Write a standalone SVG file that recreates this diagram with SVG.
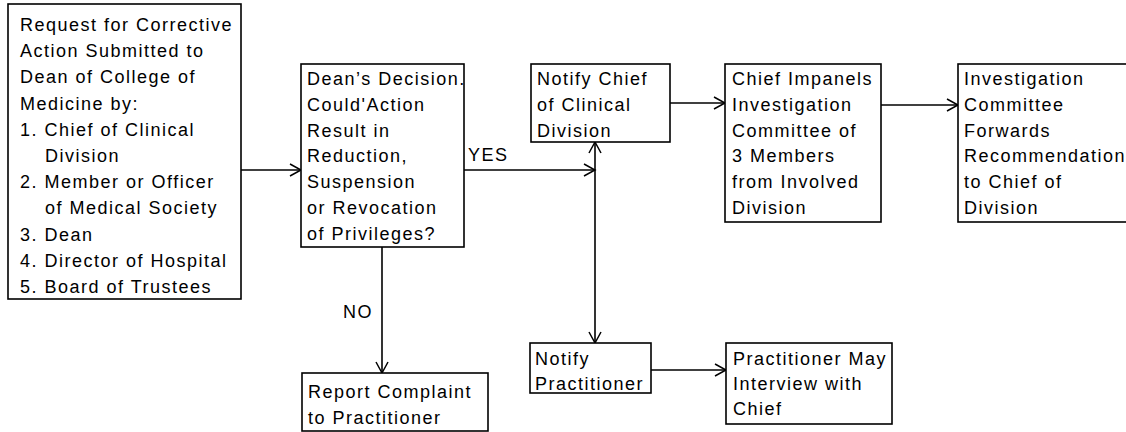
<svg xmlns="http://www.w3.org/2000/svg" width="1126" height="432" viewBox="0 0 1126 432">
<defs>
<marker id="ah" markerUnits="userSpaceOnUse" markerWidth="14" markerHeight="14" viewBox="0 0 14 14" refX="12" refY="7" orient="auto-start-reverse">
<path d="M1,1 L12,7 L1,13" fill="none" stroke="#000" stroke-width="1.5"/>
</marker>
</defs>
<style>
.box{fill:#fff;stroke:#000;stroke-width:1.6}
.t{font-family:"Liberation Sans",Arial,sans-serif;font-size:18px;letter-spacing:1.5px;fill:#000}
.c{fill:none;stroke:#000;stroke-width:1.6}
</style>
<rect width="1126" height="432" fill="#fff"/>
<g id="connectors">
<path class="c" d="M241,170 H301" marker-end="url(#ah)"/>
<path class="c" d="M464,170 H595" marker-end="url(#ah)"/>
<path class="c" d="M595,142 V343" marker-start="url(#ah)" marker-end="url(#ah)"/>
<path class="c" d="M670,103 H725" marker-end="url(#ah)"/>
<path class="c" d="M881,105 H958" marker-end="url(#ah)"/>
<path class="c" d="M382,247 V373" marker-end="url(#ah)"/>
<path class="c" d="M651,370 H726" marker-end="url(#ah)"/>
<text class="t" x="468" y="161">YES</text>
<text class="t" x="343" y="318">NO</text>
</g>
<g id="n1">
<rect class="box" x="8" y="4" width="233" height="295"/>
<text class="t" y="31">
<tspan x="20">Request for Corrective</tspan>
<tspan x="20" dy="26.2">Action Submitted to</tspan>
<tspan x="20" dy="26.2">Dean of College of</tspan>
<tspan x="20" dy="26.2">Medicine by:</tspan>
<tspan x="20" dy="26.2">1. Chief of Clinical</tspan>
<tspan x="45" dy="26.2">Division</tspan>
<tspan x="20" dy="26.2">2. Member or Officer</tspan>
<tspan x="45" dy="26.2">of Medical Society</tspan>
<tspan x="20" dy="26.2">3. Dean</tspan>
<tspan x="20" dy="26.2">4. Director of Hospital</tspan>
<tspan x="20" dy="26.2">5. Board of Trustees</tspan>
</text>
</g>
<g id="n2">
<rect class="box" x="301" y="64" width="163" height="183"/>
<text class="t" y="85">
<tspan x="307">Dean’s Decision.</tspan>
<tspan x="307" dy="25.8">Could'Action</tspan>
<tspan x="307" dy="25.8">Result in</tspan>
<tspan x="307" dy="25.8">Reduction,</tspan>
<tspan x="307" dy="25.8">Suspension</tspan>
<tspan x="307" dy="25.8">or Revocation</tspan>
<tspan x="307" dy="25.8">of Privileges?</tspan>
</text>
</g>
<g id="n3">
<rect class="box" x="531" y="64" width="139" height="78"/>
<text class="t" y="85">
<tspan x="537">Notify Chief</tspan>
<tspan x="537" dy="25.8">of Clinical</tspan>
<tspan x="537" dy="25.8">Division</tspan>
</text>
</g>
<g id="n4">
<rect class="box" x="725" y="64" width="156" height="158"/>
<text class="t" y="85">
<tspan x="732">Chief Impanels</tspan>
<tspan x="732" dy="25.8">Investigation</tspan>
<tspan x="732" dy="25.8">Committee of</tspan>
<tspan x="732" dy="25.8">3 Members</tspan>
<tspan x="732" dy="25.8">from Involved</tspan>
<tspan x="732" dy="25.8">Division</tspan>
</text>
</g>
<g id="n5">
<rect class="box" x="958" y="64" width="190" height="158"/>
<text class="t" y="85">
<tspan x="964">Investigation</tspan>
<tspan x="964" dy="25.8">Committee</tspan>
<tspan x="964" dy="25.8">Forwards</tspan>
<tspan x="964" dy="25.8">Recommendation</tspan>
<tspan x="964" dy="25.8">to Chief of</tspan>
<tspan x="964" dy="25.8">Division</tspan>
</text>
</g>
<g id="n6">
<rect class="box" x="302" y="373" width="186" height="58"/>
<text class="t" y="398">
<tspan x="308">Report Complaint</tspan>
<tspan x="308" dy="25.8">to Practitioner</tspan>
</text>
</g>
<g id="n7">
<rect class="box" x="530" y="343" width="121" height="50"/>
<text class="t" y="365">
<tspan x="535">Notify</tspan>
<tspan x="535" dy="25">Practitioner</tspan>
</text>
</g>
<g id="n8">
<rect class="box" x="726" y="343" width="166" height="81"/>
<text class="t" y="365">
<tspan x="733">Practitioner May</tspan>
<tspan x="733" dy="25">Interview with</tspan>
<tspan x="733" dy="25">Chief</tspan>
</text>
</g>
</svg>
